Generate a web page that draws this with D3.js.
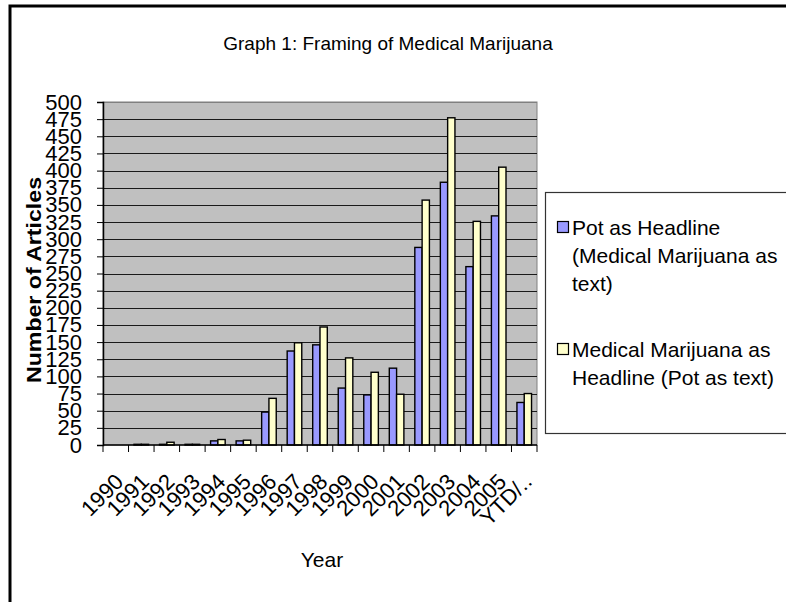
<!DOCTYPE html>
<html>
<head>
<meta charset="utf-8">
<script src="https://cdn.jsdelivr.net/npm/d3@7"></script>
<style>
  body { margin: 0; background: #fff; }
  text { font-family: "Liberation Sans", Arial, sans-serif; }
</style>
</head>
<body>
<div id="chart"></div>
<script>
const years = ["1990","1991","1992","1993","1994","1995","1996","1997","1998","1999",
               "2000","2001","2002","2003","2004","2005","YTD/.."];
const potHeadline = [0,1,1,1,6,6,48,137,146,83,73,112,288,383,260,334,62];
const medHeadline = [0,1,4,1,8,7,68,149,172,127,106,74,357,477,326,405,75];
const seriesNames = ["Pot as Headline|(Medical Marijuana as|text)",
                     "Medical Marijuana as|Headline (Pot as text)"];
const seriesColors = ["#9999ff", "#ffffcc"];
const yTicks = d3.range(0, 501, 25);

const width = 786, height = 602;
const plot = {left: 103, right: 537, top: 102, bottom: 445};

let svg = d3.select("#chart")
  .append("svg")
    .attr("width", width)
    .attr("height", height);

// outer frame (only left and top show in the picture)
svg.append("path")
  .attr("d", "M10,606 L10,6 L790,6")
  .attr("fill", "none")
  .attr("stroke", "#000")
  .attr("stroke-width", 3);

svg.append("text")
  .text("Graph 1: Framing of Medical Marijuana")
  .attr("x", 388)
  .attr("y", 50)
  .attr("font-size", "19px")
  .attr("text-anchor", "middle");

let x = d3.scaleBand()
  .domain(years)
  .range([plot.left, plot.right]);

let bw = x.bandwidth();
let inner = d3.scaleBand()
  .domain([0, 1])
  .range([bw * 0.75 / 3.5, bw - bw * 0.75 / 3.5]);

let y = d3.scaleLinear()
  .domain([0, 500])
  .range([plot.bottom, plot.top]);

// plot background
svg.append("rect")
  .attr("x", plot.left)
  .attr("y", plot.top)
  .attr("width", plot.right - plot.left)
  .attr("height", plot.bottom - plot.top)
  .attr("fill", "#c0c0c0")
  .attr("stroke", "#808080")
  .attr("stroke-width", 1);

// gridlines
svg.append("g")
  .selectAll("line")
  .data(yTicks.filter(d => d > 0))
  .enter()
  .append("line")
    .attr("x1", plot.left)
    .attr("x2", plot.right)
    .attr("y1", d => Math.round(y(d)) + 0.5)
    .attr("y2", d => Math.round(y(d)) + 0.5)
    .attr("stroke", d => d == 500 ? "#808080" : "#1a1a1a")
    .attr("stroke-width", 1.2);

// bars
let allSeries = [potHeadline, medHeadline];
allSeries.forEach(function(vals, s) {
  svg.append("g")
    .selectAll("rect")
    .data(vals.map((v, i) => ({year: years[i], value: v})).filter(d => d.value > 0))
    .enter()
    .append("rect")
      .attr("x", d => x(d.year) + inner(s))
      .attr("y", d => y(d.value))
      .attr("width", inner.bandwidth())
      .attr("height", d => y(0) - y(d.value))
      .attr("fill", seriesColors[s])
      .attr("stroke", "#000")
      .attr("stroke-width", 1.4);
});

// y axis
let yAxis = svg.append("g")
  .attr("transform", "translate(" + plot.left + ",0)")
  .call(d3.axisLeft(y).tickValues(yTicks).tickSize(6).tickPadding(15));
yAxis.select(".domain").attr("stroke", "#000").attr("stroke-width", 1.5);
yAxis.selectAll(".tick line").attr("stroke", "#000");
yAxis.selectAll(".tick text")
  .attr("font-size", "22px")
  .attr("font-family", "'Liberation Sans', Arial, sans-serif")
  .attr("fill", "#000");

// x axis, ticks at category boundaries
svg.append("line")
  .attr("x1", plot.left)
  .attr("x2", plot.right)
  .attr("y1", plot.bottom)
  .attr("y2", plot.bottom)
  .attr("stroke", "#000")
  .attr("stroke-width", 1.5);
svg.append("g")
  .selectAll("line")
  .data(years.concat(["end"]))
  .enter()
  .append("line")
    .attr("x1", (d, i) => i < years.length ? x(d) : plot.right)
    .attr("x2", (d, i) => i < years.length ? x(d) : plot.right)
    .attr("y1", plot.bottom)
    .attr("y2", plot.bottom + 7)
    .attr("stroke", "#000")
    .attr("stroke-width", 1);

svg.append("g")
  .selectAll("text")
  .data(years)
  .enter()
  .append("text")
    .text(d => d)
    .attr("transform", d => "translate(" + (x(d) + bw / 2 + 9) + ",483) rotate(-45)")
    .attr("text-anchor", "end")
    .attr("font-size", "22px");

// axis titles
svg.append("text")
  .text("Year")
  .attr("x", 322)
  .attr("y", 567)
  .attr("font-size", "21px")
  .attr("text-anchor", "middle");

svg.append("text")
  .text("Number of Articles")
  .attr("transform", "translate(41,280) rotate(-90)")
  .attr("font-size", "20px")
  .attr("font-weight", "bold")
  .attr("text-anchor", "middle")
  .attr("textLength", 206)
  .attr("lengthAdjust", "spacingAndGlyphs");

// legend
let legend = svg.append("g");
legend.append("rect")
  .attr("x", 545.5)
  .attr("y", 192.5)
  .attr("width", 260)
  .attr("height", 241)
  .attr("fill", "#fff")
  .attr("stroke", "#333")
  .attr("stroke-width", 1.2);

let legendTop = [235, 357];
seriesNames.forEach(function(name, s) {
  legend.append("rect")
    .attr("x", 557.5)
    .attr("y", legendTop[s] - 13.5)
    .attr("width", 11)
    .attr("height", 11)
    .attr("fill", seriesColors[s])
    .attr("stroke", "#000")
    .attr("stroke-width", 1.2);
  let t = legend.append("text")
    .attr("x", 572)
    .attr("y", legendTop[s])
    .attr("font-size", "21px");
  name.split("|").forEach(function(line, j) {
    t.append("tspan")
      .attr("x", 572)
      .attr("dy", j == 0 ? 0 : 28)
      .text(line);
  });
});
</script>
</body>
</html>
